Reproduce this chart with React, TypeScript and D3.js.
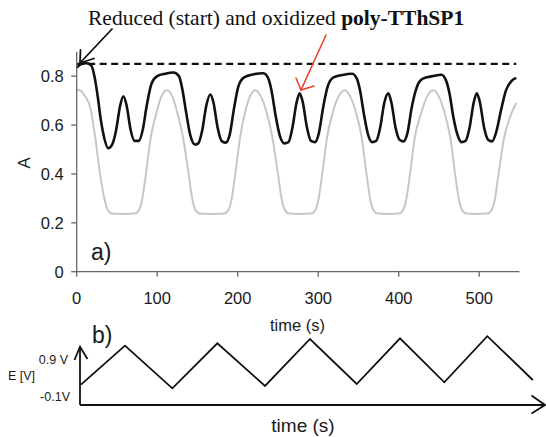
import React from "react";
import * as d3 from "d3";

// ---- Data ----
const oxTime = [0, 5, 12, 18, 22, 26, 30, 34, 39, 44, 49, 54, 58, 62, 67, 72, 77, 82, 87, 93, 100, 110, 120, 127, 131, 136, 141, 147, 151, 156, 161, 166, 170, 175, 180, 185, 190, 195, 201, 208, 220, 232, 238, 242, 247, 252, 258, 263, 268, 273, 277, 281, 286, 291, 296, 301, 306, 312, 319, 330, 342, 348, 352, 357, 362, 367, 372, 377, 382, 387, 391, 396, 401, 406, 411, 416, 423, 430, 442, 453, 459, 463, 468, 473, 478, 483, 488, 493, 497, 501, 506, 511, 516, 521, 527, 533, 540, 546];
const oxValue = [0.835, 0.848, 0.853, 0.845, 0.80, 0.72, 0.62, 0.55, 0.505, 0.52, 0.58, 0.68, 0.718, 0.68, 0.58, 0.535, 0.535, 0.58, 0.68, 0.77, 0.80, 0.81, 0.815, 0.80, 0.75, 0.65, 0.56, 0.52, 0.525, 0.58, 0.68, 0.725, 0.69, 0.59, 0.535, 0.528, 0.56, 0.66, 0.76, 0.795, 0.808, 0.812, 0.79, 0.74, 0.64, 0.56, 0.525, 0.53, 0.59, 0.69, 0.73, 0.69, 0.59, 0.535, 0.53, 0.57, 0.67, 0.76, 0.795, 0.805, 0.81, 0.79, 0.74, 0.64, 0.56, 0.53, 0.535, 0.59, 0.69, 0.73, 0.69, 0.59, 0.54, 0.533, 0.57, 0.67, 0.76, 0.79, 0.80, 0.806, 0.78, 0.73, 0.63, 0.56, 0.53, 0.535, 0.59, 0.69, 0.73, 0.69, 0.59, 0.54, 0.533, 0.57, 0.66, 0.74, 0.78, 0.793];

const redTime = [0, 5, 10, 17, 23, 29, 35, 39, 44, 58, 72, 77, 81, 86, 92, 99, 105, 112, 119, 125, 132, 139, 144, 148, 153, 168, 183, 188, 192, 197, 203, 209, 215, 222, 229, 236, 243, 250, 255, 259, 264, 277, 291, 296, 300, 305, 311, 318, 325, 333, 340, 347, 354, 360, 365, 369, 374, 387, 400, 405, 409, 414, 420, 428, 435, 443, 450, 457, 464, 470, 475, 479, 484, 497, 510, 515, 519, 524, 531, 538, 546];
const redValue = [0.745, 0.74, 0.72, 0.67, 0.55, 0.40, 0.29, 0.25, 0.238, 0.236, 0.238, 0.25, 0.29, 0.40, 0.55, 0.65, 0.715, 0.742, 0.715, 0.65, 0.55, 0.40, 0.29, 0.25, 0.238, 0.236, 0.238, 0.25, 0.29, 0.40, 0.55, 0.65, 0.715, 0.742, 0.715, 0.65, 0.55, 0.40, 0.29, 0.25, 0.238, 0.236, 0.238, 0.25, 0.29, 0.40, 0.55, 0.65, 0.715, 0.742, 0.715, 0.65, 0.55, 0.40, 0.29, 0.25, 0.238, 0.236, 0.238, 0.25, 0.29, 0.40, 0.55, 0.65, 0.715, 0.742, 0.715, 0.65, 0.55, 0.40, 0.29, 0.25, 0.238, 0.236, 0.238, 0.25, 0.29, 0.40, 0.55, 0.63, 0.69];

const reducedLevel = 0.85;
const reducedSpan = [0, 546];

const xTicks = [0, 100, 200, 300, 400, 500];
const yTicks = [0, 0.2, 0.4, 0.6, 0.8];
const yTickLabels = ["0", "0.2", "0.4", "0.6", "0.8"];

// Potential program (panel b), as drawn
const potTime = [5.3, 60, 118.8, 174.7, 233.9, 289.8, 347.8, 401.6, 456.6, 510, 566.5];
const potValue = [0, 0.9, -0.084, 0.955, -0.03, 1.055, 0.015, 1.07, 0.055, 1.12, 0.108];

const titleNormal = "Reduced (start) and oxidized ";
const titleBold = "poly-TThSP1";

export default function App() {
  const W = 546, H = 437;
  const x = d3.scaleLinear().domain([0, 550]).range([76.7, 519.5]);
  const y = d3.scaleLinear().domain([0, 0.9]).range([271.7, 51.7]);
  const yb = d3.scaleLinear().domain([-0.1, 0.9]).range([389, 345.7]);

  const line = d3.line<[number, number]>()
    .x(d => x(d[0]))
    .y(d => y(d[1]))
    .curve(d3.curveMonotoneX);
  const oxPath = line(oxTime.map((t, i) => [t, oxValue[i]]));
  const redPath = line(redTime.map((t, i) => [t, redValue[i]]));
  const potPath = d3.line<[number, number]>()
    .x(d => x(d[0]))
    .y(d => yb(d[1]))(potTime.map((t, i) => [t, potValue[i]]));

  const sans = "'Liberation Sans', Arial, Helvetica, sans-serif";
  const serif = "'Liberation Serif', 'Times New Roman', serif";
  const axisCol = "#666";
  const textCol = "#1a1a1a";

  const x0 = x(0), y0 = y(0);
  const bAxisX = 80, bAxisY = 405;

  return (
    <svg width={W} height={H} viewBox={`0 0 ${W} ${H}`}
      style={{ position: "absolute", left: 0, top: 0, background: "#fff" }}>
      {/* Title */}
      <text x={88} y={25} fontFamily={serif} fontSize={21.5} fill="#111">
        {titleNormal}
        <tspan fontWeight="bold">{titleBold}</tspan>
      </text>

      {/* Curves */}
      <path d={redPath || ""} fill="none" stroke="#cdc5c1" strokeWidth={2} />
      <path d={oxPath || ""} fill="none" stroke="#111" strokeWidth={2.6} />
      <line x1={x(reducedSpan[0])} x2={x(reducedSpan[1])} y1={y(reducedLevel)} y2={y(reducedLevel)}
        stroke="#111" strokeWidth={2.2} strokeDasharray="7 4.5" />

      {/* Axes panel a */}
      <line x1={x0} x2={x0} y1={y(0.9)} y2={y0} stroke={axisCol} strokeWidth={1.3} />
      <line x1={x0} x2={x(550)} y1={y0} y2={y0} stroke={axisCol} strokeWidth={1.3} />
      {yTicks.map((v, i) => (
        <g key={"yt" + i}>
          <line x1={x0 - 5.5} x2={x0} y1={y(v)} y2={y(v)} stroke={axisCol} strokeWidth={1.3} />
          <text x={x0 - 13} y={y(v)} dy="0.36em" textAnchor="end" fontFamily={sans} fontSize={16.5} fill={textCol}>
            {yTickLabels[i]}
          </text>
        </g>
      ))}
      {xTicks.map((v, i) => (
        <g key={"xt" + i}>
          <line x1={x(v)} x2={x(v)} y1={y0} y2={y0 + 5} stroke={axisCol} strokeWidth={1.3} />
          <text x={x(v)} y={303.5} textAnchor="middle" fontFamily={sans} fontSize={16.5} fill={textCol}>
            {String(v)}
          </text>
        </g>
      ))}
      <text x={297.5} y={331} textAnchor="middle" fontFamily={sans} fontSize={16.5} fill={textCol}>time (s)</text>
      <text transform={`translate(30,163) rotate(-90)`} textAnchor="middle" fontFamily={sans} fontSize={16.5} fill={textCol}>A</text>
      <text x={91} y={260} fontFamily={sans} fontSize={23} fill={textCol}>a)</text>

      {/* Arrows */}
      <g stroke="#111" strokeWidth={1.8} fill="none" strokeLinecap="round">
        <line x1={112} y1={29} x2={80} y2={63} />
        <polyline points="80.5,50 80,63 94,58.5" />
      </g>
      <g stroke="#e8452c" strokeWidth={1.6} fill="none" strokeLinecap="round">
        <line x1={326} y1={35} x2={301} y2={90} />
        <polyline points="296,78 301,90 314,86" />
      </g>

      {/* Panel b */}
      <text x={92} y={343} fontFamily={sans} fontSize={23} fill={textCol}>b)</text>
      <path d={potPath || ""} fill="none" stroke="#111" strokeWidth={1.8} />
      <g stroke="#111" strokeWidth={1.8} fill="none">
        <line x1={bAxisX} x2={bAxisX} y1={bAxisY} y2={346.7} />
        <polyline points="74.5,360 80,346.7 87.5,359" />
        <line x1={bAxisX} x2={545} y1={bAxisY} y2={bAxisY} />
        <polyline points="531.5,395.5 545,405 531.5,413.5" />
      </g>
      <text x={68} y={363.5} textAnchor="end" fontFamily={sans} fontSize={12.5} fill={textCol}>0.9 V</text>
      <text x={8} y={379.5} fontFamily={sans} fontSize={12.5} fill={textCol}>E [V]</text>
      <text x={70} y={401} textAnchor="end" fontFamily={sans} fontSize={12.5} fill={textCol}>-0.1V</text>
      <text x={303} y={432} textAnchor="middle" fontFamily={sans} fontSize={19} fill={textCol}>time (s)</text>
    </svg>
  );
}
